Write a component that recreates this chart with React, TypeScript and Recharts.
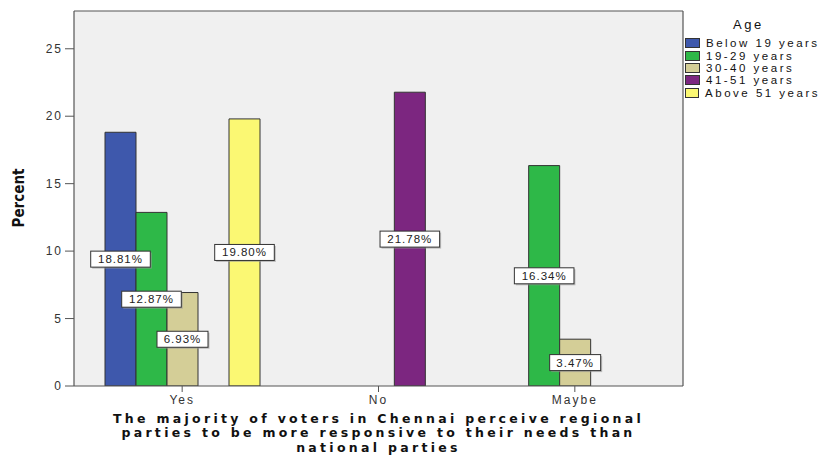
import React from 'react';
import {
  Bar,
  BarChart,
  CartesianGrid,
  LabelList,
  XAxis,
  YAxis
} from 'recharts';

const categories = ['Yes', 'No', 'Maybe'];
const below19 = [18.81, null, null];
const age19to29 = [12.87, null, 16.34];
const age30to40 = [6.93, null, 3.47];
const age41to51 = [null, 21.78, null];
const above51 = [19.8, null, null];
const yTicks = [0, 5, 10, 15, 20, 25];

const series = [
  { key: 'below19', name: 'Below 19 years', values: below19, color: '#3e58ac' },
  { key: 'age19to29', name: '19-29 years', values: age19to29, color: '#2eb848' },
  { key: 'age30to40', name: '30-40 years', values: age30to40, color: '#d4ce97' },
  { key: 'age41to51', name: '41-51 years', values: age41to51, color: '#7c2680' },
  { key: 'above51', name: 'Above 51 years', values: above51, color: '#fbf873' }
];

const data = categories.map((name, i) => {
  const row: Record<string, any> = { name };
  series.forEach((s) => {
    row[s.key] = s.values[i];
  });
  return row;
});

const tickFont = { fontFamily: 'Arial, "Liberation Sans", sans-serif', fontSize: 12, fill: '#333', letterSpacing: 2 };

function ValueLabel(props: any) {
  const { x, y, width, height, value } = props;
  if (value === null || value === undefined) return null;
  const text = `${Number(value).toFixed(2)}%`;
  const w = text.length * 8.6 + 8;
  const h = 16;
  const cx = x + width / 2;
  const cy = y + height / 2;
  return (
    <g>
      <rect x={cx - w / 2 + 1.5} y={cy - h / 2 + 1.5} width={w} height={h} fill="#9a9a9a" opacity={0.6} />
      <rect x={cx - w / 2} y={cy - h / 2} width={w} height={h} fill="#ffffff" stroke="#333" strokeWidth={1} />
      <text
        x={cx}
        y={cy + 4}
        textAnchor="middle"
        fontFamily='Arial, "Liberation Sans", sans-serif'
        fontSize={11.5}
        letterSpacing={1}
        fill="#222"
      >
        {text}
      </text>
    </g>
  );
}

function XTitle(props: any) {
  const { viewBox } = props;
  const cx = viewBox.x + viewBox.width / 2;
  const lines = [
    'The majority of voters in Chennai perceive regional',
    'parties to be more responsive to their needs than',
    'national parties'
  ];
  return (
    <text
      textAnchor="middle"
      fontFamily='"DejaVu Sans", Verdana, sans-serif'
      fontWeight="bold"
      fontSize={12.5}
      letterSpacing={3.3}
      fill="#111"
    >
      {lines.map((l, i) => (
        <tspan key={i} x={cx} y={423 + i * 14.3}>
          {l}
        </tspan>
      ))}
    </text>
  );
}

function YTitle() {
  return (
    <text
      x={24}
      y={198}
      transform="rotate(-90 24 198)"
      textAnchor="middle"
      fontFamily='"Liberation Sans Narrow", "DejaVu Sans Condensed", "Arial Narrow", sans-serif'
      fontWeight="bold"
      fontSize={15}
      fill="#111"
    >
      Percent
    </text>
  );
}

export default function App() {
  return (
    <div style={{ position: 'absolute', left: 0, top: 0, width: 820, height: 455, background: '#fff' }}>
      <BarChart
        width={820}
        height={455}
        data={data}
        margin={{ top: 11, right: 137, left: 0, bottom: 0 }}
        barGap={0}
        barSize={31}
      >
        <CartesianGrid
          fill="#f0f0f0"
          stroke="#555"
          strokeWidth={1.2}
          horizontalCoordinatesGenerator={({ offset }: any) => [offset.top]}
          verticalCoordinatesGenerator={({ offset }: any) => [offset.left + offset.width]}
        />
        <XAxis
          dataKey="name"
          height={69}
          padding={{ left: 10, right: 10 }}
          axisLine={{ stroke: '#555', strokeWidth: 1.2 }}
          tickLine={{ stroke: '#555' }}
          tickSize={6}
          tickMargin={3}
          tick={tickFont}
          label={<XTitle />}
        />
        <YAxis
          width={74}
          domain={[0, 27.8]}
          ticks={yTicks}
          allowDataOverflow
          axisLine={{ stroke: '#555', strokeWidth: 1.2 }}
          tickLine={{ stroke: '#555' }}
          tickSize={9}
          tickMargin={2}
          tick={tickFont}
          label={<YTitle />}
        />
        {series.map((s) => (
          <Bar
            key={s.key}
            dataKey={s.key}
            name={s.name}
            fill={s.color}
            stroke="#333"
            strokeWidth={1}
            isAnimationActive={false}
          >
            <LabelList dataKey={s.key} content={<ValueLabel />} />
          </Bar>
        ))}
      </BarChart>
      <div
        style={{
          position: 'absolute',
          left: 685,
          top: 15,
          width: 135,
          fontFamily: 'Arial, "Liberation Sans", sans-serif',
          fontSize: 11.5,
          letterSpacing: 2.5,
          color: '#111',
          whiteSpace: 'nowrap',
          overflow: 'hidden'
        }}
      >
        <div style={{ paddingLeft: 48, fontSize: 13, height: 22, lineHeight: '20px' }}>Age</div>
        {series.map((s) => (
          <div key={s.key} style={{ display: 'flex', alignItems: 'center', height: 12.4, lineHeight: '12px' }}>
            <span
              style={{
                display: 'inline-block',
                width: 15,
                height: 10,
                background: s.color,
                border: '1px solid #333',
                marginRight: 6,
                boxSizing: 'border-box'
              }}
            />
            <span>{s.name}</span>
          </div>
        ))}
      </div>
    </div>
  );
}
